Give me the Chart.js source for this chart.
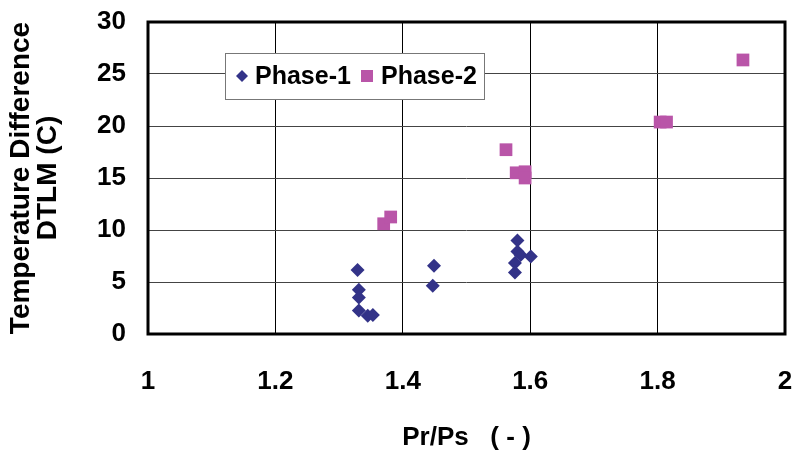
<!DOCTYPE html>
<html>
<head>
<meta charset="utf-8">
<script src="https://cdn.jsdelivr.net/npm/chart.js@4.4.0/dist/chart.umd.min.js"></script>
<style>
  html, body { margin: 0; padding: 0; background: #fff; }
  #wrap { width: 797px; height: 453px; }
</style>
</head>
<body>
<div id="wrap"><canvas id="grafico" width="797" height="453"></canvas></div>
<script>
// Datos (Pr/Ps vs DTLM)
const FASE1_X = [1.329, 1.331, 1.331, 1.331, 1.345, 1.353, 1.449, 1.447, 1.580, 1.580, 1.585, 1.601, 1.576, 1.576];
const FASE1_Y = [6.15, 4.26, 3.52, 2.27, 1.76, 1.83, 6.57, 4.64, 9.0, 7.94, 7.6, 7.46, 6.83, 5.92];

const FASE2_X = [1.370, 1.381, 1.562, 1.578, 1.592, 1.592, 1.804, 1.814, 1.934];
const FASE2_Y = [10.6, 11.25, 17.72, 15.5, 15.6, 15.0, 20.38, 20.38, 26.35];

const SERIES = ["Phase-1", "Phase-2"];
const X_TICKS = [1, 1.2, 1.4, 1.6, 1.8, 2];
const Y_TICKS = [0, 5, 10, 15, 20, 25, 30];

const FUENTE = "'Liberation Sans', Arial, sans-serif";
const AZUL = "#333388";
const ROSA = "#b955a8";

function puntos(xs, ys) {
  return xs.map((x, i) => ({ x, y: ys[i] }));
}

// sin relleno extra por etiquetas que sobresalen
function sinPadding(s) {
  s.paddingLeft = 0;
  s.paddingRight = 0;
  s.paddingTop = 0;
  s.paddingBottom = 0;
}

// Marco grueso y leyenda dentro del area del grafico
const marcoYLeyenda = {
  id: "marcoYLeyenda",
  afterDraw(chart) {
    const { ctx, chartArea } = chart;
    ctx.save();
    ctx.strokeStyle = "#000";
    ctx.lineWidth = 3;
    ctx.strokeRect(chartArea.left, chartArea.top, chartArea.right - chartArea.left, chartArea.bottom - chartArea.top);

    // caja de leyenda
    const lx = 225, ly = 53, lw = 259, lh = 46;
    ctx.fillStyle = "#fff";
    ctx.fillRect(lx, ly, lw, lh);
    ctx.strokeStyle = "#777";
    ctx.lineWidth = 1;
    ctx.strokeRect(lx + 0.5, ly + 0.5, lw, lh);

    const cy = ly + lh / 2;
    ctx.fillStyle = AZUL;
    ctx.beginPath();
    ctx.moveTo(242, cy - 6);
    ctx.lineTo(248, cy);
    ctx.lineTo(242, cy + 6);
    ctx.lineTo(236, cy);
    ctx.closePath();
    ctx.fill();
    ctx.fillStyle = ROSA;
    ctx.fillRect(361, cy - 6, 12, 12);

    ctx.fillStyle = "#000";
    ctx.font = "bold 25px " + FUENTE;
    ctx.textBaseline = "middle";
    ctx.textAlign = "left";
    ctx.fillText(SERIES[0], 255, cy + 1);
    ctx.fillText(SERIES[1], 381, cy + 1);
    ctx.restore();
  },
};

document.addEventListener("DOMContentLoaded", () => {
  const ctx = document.getElementById("grafico").getContext("2d");

  new Chart(ctx, {
    type: "scatter",
    data: {
      datasets: [
        {
          label: SERIES[0],
          data: puntos(FASE1_X, FASE1_Y),
          pointStyle: "rectRot",
          pointRadius: 7,
          backgroundColor: AZUL,
          borderColor: AZUL,
          borderWidth: 0,
        },
        {
          label: SERIES[1],
          data: puntos(FASE2_X, FASE2_Y),
          pointStyle: "rect",
          pointRadius: 9,
          backgroundColor: ROSA,
          borderColor: ROSA,
          borderWidth: 0,
        },
      ],
    },
    options: {
      responsive: false,
      animation: false,
      layout: { padding: { top: 22, right: 12, left: 0, bottom: 0 } },
      plugins: {
        legend: { display: false },
        tooltip: { enabled: false },
      },
      scales: {
        x: {
          type: "linear",
          min: 1,
          max: 2,
          afterBuildTicks: (s) => { s.ticks = X_TICKS.map((v) => ({ value: v })); },
          afterFit: (s) => { s.height = 119; sinPadding(s); },
          grid: { color: "#000", lineWidth: 1, drawTicks: false },
          border: { display: false },
          ticks: {
            color: "#000",
            padding: 32,
            font: { family: FUENTE, size: 26, weight: "bold" },
            callback: (v) => String(v),
          },
          title: {
            display: true,
            text: "Pr/Ps   ( - )",
            color: "#000",
            font: { family: FUENTE, size: 26, weight: "bold" },
            padding: { top: 31, bottom: 0 },
          },
        },
        y: {
          min: 0,
          max: 30,
          afterBuildTicks: (s) => { s.ticks = Y_TICKS.map((v) => ({ value: v })); },
          afterFit: (s) => { s.width = 148; sinPadding(s); },
          grid: { color: "#444", lineWidth: 1, drawTicks: false },
          border: { display: false },
          ticks: {
            color: "#000",
            padding: 22,
            font: { family: FUENTE, size: 26, weight: "bold" },
          },
          title: {
            display: true,
            text: ["Temperature Difference", "DTLM (C)"],
            color: "#000",
            font: { family: FUENTE, size: 28, weight: "bold", lineHeight: 0.95 },
            padding: { top: 8, bottom: 0 },
          },
        },
      },
    },
    plugins: [marcoYLeyenda],
  });
});
</script>
</body>
</html>
